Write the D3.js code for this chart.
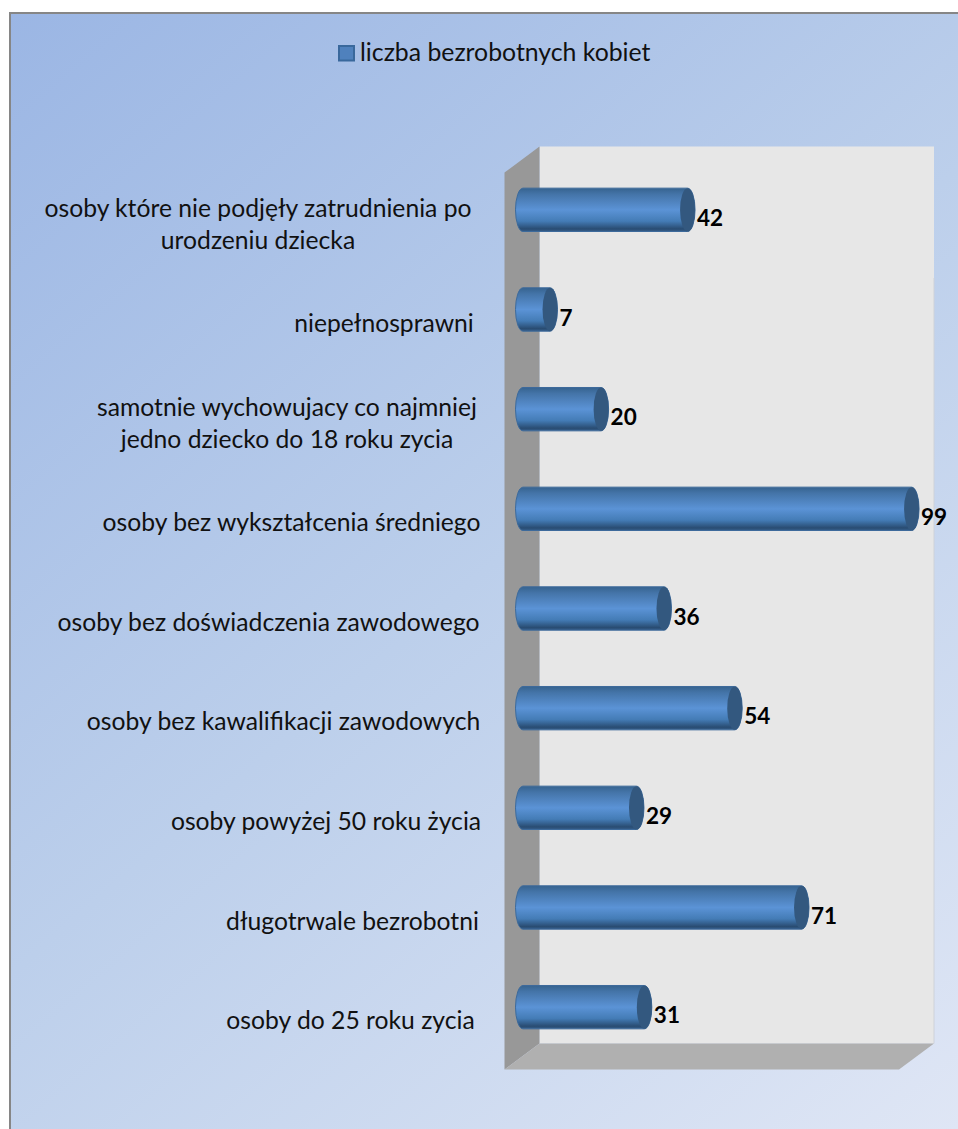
<!DOCTYPE html>
<html>

<head>
    <meta charset="utf-8">
    <style>
        html, body {
            margin: 0;
            background: #fff;
            overflow: hidden;
        }

        svg {
            display: block;
        }

        text {
            font-family: Lato, 'Open Sans', sans-serif;
            fill: #111;
        }

        .cat-label {
            font-size: 24.7px;
            text-anchor: middle;
        }

        .value-label {
            font-size: 22.5px;
            font-weight: 700;
            fill: #000;
        }

        .legend-label {
            font-size: 24.8px;
        }
    </style>
</head>

<body>
    <svg width="958" height="1129"></svg>

    <script src="https://d3js.org/d3.v7.min.js"></script>
    <script>
        // top to bottom, as in the picture
        let categories = [
            "osoby które nie podjęły zatrudnienia po|urodzeniu dziecka",
            "niepełnosprawni",
            "samotnie wychowujacy co najmniej|jedno dziecko do 18 roku zycia",
            "osoby bez wykształcenia średniego",
            "osoby bez doświadczenia zawodowego",
            "osoby bez kawalifikacji zawodowych",
            "osoby powyżej 50 roku życia",
            "długotrwale bezrobotni",
            "osoby do 25 roku zycia"
        ]
        let values = [42, 7, 20, 99, 36, 54, 29, 71, 31]
        let seriesName = "liczba bezrobotnych kobiet"

        // centre x of each label block, they are not all centred the same
        let labelCentres = [258, 384, 287, 291.5, 268.5, 283.5, 326, 352.5, 350.5]

        let svg = d3.select("svg")
        let defs = svg.append("defs")

        let bg = defs.append("linearGradient")
            .attr("id", "bg")
            .attr("gradientUnits", "userSpaceOnUse")
            .attr("x1", 10).attr("y1", 14)
            .attr("x2", 958).attr("y2", 1129)
        bg.append("stop").attr("offset", 0).attr("stop-color", "#9bb6e4")
        bg.append("stop").attr("offset", 0.5).attr("stop-color", "#bccfeb")
        bg.append("stop").attr("offset", 1).attr("stop-color", "#dfe6f5")

        let body = defs.append("linearGradient")
            .attr("id", "cyl")
            .attr("x1", 0).attr("y1", 0)
            .attr("x2", 0).attr("y2", 1)
        body.append("stop").attr("offset", 0).attr("stop-color", "#36638f")
        body.append("stop").attr("offset", 0.14).attr("stop-color", "#4474a8")
        body.append("stop").attr("offset", 0.5).attr("stop-color", "#5b93d6")
        body.append("stop").attr("offset", 0.76).attr("stop-color", "#447cb6")
        body.append("stop").attr("offset", 0.94).attr("stop-color", "#294c72")
        body.append("stop").attr("offset", 1).attr("stop-color", "#365f8c")

        // frame, runs off the bottom and right of the picture
        svg.append("rect")
            .attr("x", 10).attr("y", 13)
            .attr("width", 960).attr("height", 1130)
            .attr("fill", "url(#bg)")
            .attr("stroke", "#868686")
            .attr("stroke-width", 2)

        // legend
        svg.append("rect")
            .attr("x", 339).attr("y", 46)
            .attr("width", 15).attr("height", 14.5)
            .attr("fill", "#4f81bd")
            .attr("stroke", "#39689c")
            .attr("stroke-width", 2)
        svg.append("text")
            .attr("class", "legend-label")
            .attr("x", 360).attr("y", 61)
            .text(seriesName)

        // plot box, dx/dy is the depth offset of the 3d walls
        let wall = { left: 504.5, right: 899, top: 172.5, bottom: 1069.5, dx: 35, dy: 26 }

        let x = d3.scaleLinear()
            .domain([0, 100])
            .range([530, 923])

        let y = d3.scaleBand()
            .domain(categories)
            .range([160, 1057])
            .paddingInner(0.565)
            .paddingOuter(0.2825)

        let pts = a => a.map(p => p.join(",")).join(" ")

        // back wall
        svg.append("polygon")
            .attr("points", pts([
                [wall.left + wall.dx, wall.top - wall.dy],
                [wall.right + wall.dx, wall.top - wall.dy],
                [wall.right + wall.dx, wall.bottom - wall.dy],
                [wall.left + wall.dx, wall.bottom - wall.dy]
            ]))
            .attr("fill", "#e7e7e7")

        // the right edge of the back wall only shows darker from here down
        svg.append("line")
            .attr("x1", wall.right + wall.dx).attr("y1", 278)
            .attr("x2", wall.right + wall.dx).attr("y2", wall.bottom - wall.dy)
            .attr("stroke", "#ced2d9")
            .attr("stroke-width", 1)

        // side wall
        svg.append("polygon")
            .attr("points", pts([
                [wall.left, wall.top],
                [wall.left + wall.dx, wall.top - wall.dy],
                [wall.left + wall.dx, wall.bottom - wall.dy],
                [wall.left, wall.bottom]
            ]))
            .attr("fill", "#989898")

        // floor
        svg.append("polygon")
            .attr("points", pts([
                [wall.left, wall.bottom],
                [wall.left + wall.dx, wall.bottom - wall.dy],
                [wall.right + wall.dx, wall.bottom - wall.dy],
                [wall.right, wall.bottom]
            ]))
            .attr("fill", "#b0b0b0")

        // bars as cylinders
        let bars = svg.append("g")
            .selectAll("g")
            .data(categories)
            .join("g")
            .attr("class", "bar")

        let capRx = 7.5

        bars.append("path")
            .attr("d", (d, i) => {
                let x0 = 523
                let x1 = x(values[i]) - capRx
                let top = y(d)
                let h = y.bandwidth()
                return `M${x0},${top} L${x1},${top} A${capRx},${h / 2} 0 0 1 ${x1},${top + h} L${x0},${top + h} A${capRx},${h / 2} 0 0 1 ${x0},${top} Z`
            })
            .attr("fill", "url(#cyl)")
            .attr("stroke", "#3d6a9b")
            .attr("stroke-width", 1)

        bars.append("ellipse")
            .attr("cx", (d, i) => x(values[i]) - capRx)
            .attr("cy", d => y(d) + y.bandwidth() / 2)
            .attr("rx", capRx)
            .attr("ry", d => y.bandwidth() / 2)
            .attr("fill", "#33587f")

        // value labels
        bars.append("text")
            .attr("class", "value-label")
            .attr("x", (d, i) => x(values[i]) + 2)
            .attr("y", d => y(d) + y.bandwidth() / 2 + 16)
            .text((d, i) => values[i])

        // category labels, | marks a line break
        svg.append("g")
            .selectAll("text")
            .data(categories)
            .join("text")
            .attr("class", "cat-label")
            .attr("x", (d, i) => labelCentres[i])
            .attr("y", d => y(d) + y.bandwidth() / 2 + 22)
            .each(function (d) {
                let lines = d.split("|")
                let t = d3.select(this)
                let x0 = t.attr("x")
                lines.forEach((l, i) => {
                    t.append("tspan")
                        .attr("x", x0)
                        .attr("dy", i == 0 ? (lines.length == 1 ? 0 : -15) : 32)
                        .text(l)
                })
            })
    </script>
</body>

</html>
